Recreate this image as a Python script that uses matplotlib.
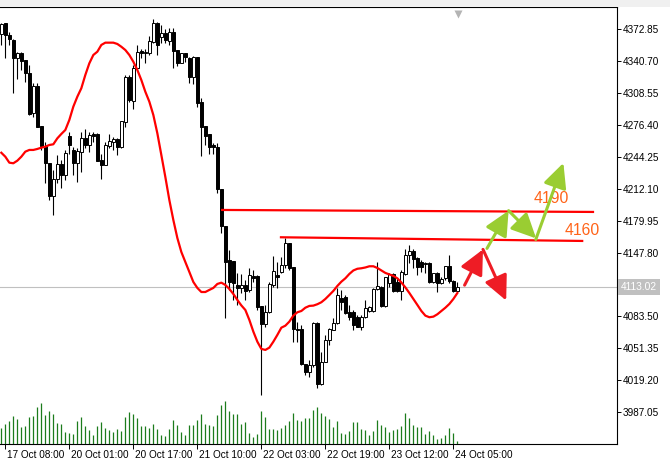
import matplotlib
matplotlib.use('Agg')
import matplotlib.pyplot as plt
from matplotlib.patches import Rectangle, FancyArrowPatch
from matplotlib.transforms import blended_transform_factory, offset_copy

# H1 bars, first bar = 17 Oct 07:00
opens = [4367.8, 4378.5, 4366.8, 4361.7, 4343.3, 4349.0, 4341.6, 4328.2, 4288.0, 4315.4,
         4275.2, 4255.1, 4237.6, 4204.7, 4221.5, 4236.9, 4225.9, 4265.1, 4251.0, 4238.2,
         4249.3, 4262.8, 4256.1, 4267.1, 4267.1, 4241.0, 4235.9, 4255.1, 4259.4, 4261.8,
         4254.4, 4279.5, 4324.2, 4300.6, 4333.3, 4351.0, 4348.4, 4348.4, 4360.0, 4378.5,
         4365.1, 4369.1, 4361.0, 4370.1, 4351.7, 4338.9, 4348.4, 4343.3, 4324.8, 4345.0,
         4299.6, 4275.2, 4267.1, 4256.1, 4254.4, 4211.5, 4174.5, 4140.3, 4139.6, 4115.2,
         4111.8, 4115.2, 4110.1, 4124.2, 4124.2, 4094.0, 4075.6, 4087.7, 4115.2, 4125.2,
         4128.5, 4135.3, 4157.1, 4133.6, 4070.9, 4070.9, 4035.3, 4027.9, 4034.6, 4076.6,
         4015.2, 4037.9, 4059.8, 4069.9, 4077.2, 4102.4, 4103.4, 4088.3, 4088.3, 4082.6,
         4073.2, 4082.6, 4089.3, 4089.3, 4110.8, 4113.5, 4094.0, 4116.8, 4126.2, 4118.5,
         4109.4, 4126.2, 4145.3, 4149.7, 4142.0, 4138.6, 4136.3, 4137.6, 4118.5, 4127.5,
         4117.5, 4121.9, 4134.3, 4119.5, 4109.4]
highs = [4379.2, 4379.2, 4370.1, 4362.4, 4350.0, 4350.0, 4341.6, 4336.6, 4318.2, 4318.2,
         4275.2, 4259.4, 4237.6, 4230.9, 4246.0, 4241.0, 4251.0, 4269.4, 4254.4, 4252.7,
         4269.4, 4271.9, 4269.4, 4269.4, 4267.8, 4247.0, 4259.4, 4267.1, 4264.4, 4262.8,
         4280.5, 4326.5, 4326.5, 4336.6, 4356.7, 4352.4, 4352.4, 4365.8, 4382.6, 4380.2,
         4376.8, 4372.5, 4373.5, 4373.5, 4351.7, 4349.0, 4349.0, 4345.0, 4345.6, 4345.0,
         4303.1, 4275.2, 4267.1, 4257.8, 4257.8, 4211.5, 4174.5, 4150.4, 4139.6, 4126.9,
         4125.9, 4120.2, 4131.9, 4130.2, 4125.2, 4094.0, 4095.0, 4118.5, 4144.6, 4138.6,
         4143.6, 4162.2, 4157.1, 4133.6, 4078.2, 4074.9, 4035.3, 4039.6, 4078.2, 4078.2,
         4048.0, 4064.8, 4071.6, 4081.6, 4111.8, 4110.1, 4105.1, 4095.0, 4090.0, 4084.9,
         4084.9, 4100.0, 4094.0, 4111.8, 4138.6, 4114.2, 4123.5, 4127.5, 4127.5, 4121.9,
         4130.2, 4151.1, 4155.4, 4151.1, 4143.6, 4140.3, 4138.6, 4138.6, 4127.5, 4128.5,
         4123.5, 4134.3, 4145.3, 4120.2, 4118.5]
lows = [4356.7, 4343.3, 4356.7, 4308.7, 4322.2, 4331.5, 4319.8, 4286.3, 4284.5, 4273.9,
        4251.0, 4217.5, 4200.7, 4185.6, 4217.5, 4212.5, 4220.8, 4247.0, 4225.9, 4219.1,
        4229.2, 4252.7, 4249.3, 4259.4, 4240.3, 4221.5, 4235.9, 4252.7, 4251.0, 4246.0,
        4252.7, 4273.9, 4299.6, 4292.6, 4332.2, 4343.3, 4338.3, 4346.6, 4359.0, 4346.6,
        4358.4, 4358.4, 4356.7, 4333.3, 4335.6, 4338.3, 4339.9, 4318.2, 4317.5, 4294.0,
        4245.0, 4256.1, 4247.0, 4247.0, 4207.4, 4167.8, 4081.6, 4110.1, 4100.0, 4095.0,
        4106.8, 4100.0, 4108.4, 4118.5, 4090.0, 4004.4, 4073.2, 4086.7, 4113.5, 4111.8,
        4126.9, 4132.6, 4130.2, 4058.1, 4057.5, 4034.6, 4024.6, 4022.9, 4032.9, 4011.2,
        4014.5, 4037.3, 4054.8, 4069.9, 4075.9, 4090.0, 4086.0, 4080.0, 4069.9, 4073.2,
        4069.9, 4081.6, 4088.3, 4088.3, 4110.1, 4092.7, 4093.3, 4113.5, 4108.4, 4108.4,
        4100.0, 4125.2, 4137.0, 4131.9, 4125.2, 4128.5, 4126.9, 4116.8, 4116.8, 4108.4,
        4116.2, 4120.2, 4117.5, 4108.4, 4108.4]
closes = [4377.8, 4366.8, 4362.4, 4343.3, 4349.0, 4340.9, 4328.2, 4287.3, 4315.4, 4274.5,
          4255.1, 4237.6, 4204.7, 4221.5, 4236.9, 4225.9, 4247.7, 4256.1, 4237.6, 4250.3,
          4262.8, 4256.1, 4266.1, 4265.1, 4240.3, 4235.9, 4256.1, 4260.4, 4261.8, 4254.4,
          4280.5, 4324.2, 4301.4, 4333.3, 4350.0, 4348.4, 4350.0, 4361.0, 4378.5, 4356.7,
          4369.1, 4361.7, 4370.1, 4351.0, 4338.9, 4348.4, 4345.0, 4324.8, 4345.0, 4298.6,
          4274.5, 4265.1, 4254.4, 4254.4, 4211.5, 4174.5, 4138.6, 4118.5, 4117.5, 4111.8,
          4115.2, 4109.1, 4125.2, 4122.5, 4093.3, 4075.6, 4087.7, 4115.8, 4129.2, 4123.5,
          4135.3, 4157.1, 4132.6, 4070.9, 4069.6, 4035.3, 4027.9, 4034.6, 4076.6, 4015.2,
          4037.9, 4059.8, 4070.9, 4077.2, 4105.1, 4098.3, 4086.7, 4082.6, 4074.9, 4073.2,
          4082.6, 4091.7, 4092.7, 4110.8, 4114.2, 4094.0, 4122.9, 4126.2, 4109.4, 4109.4,
          4128.5, 4145.3, 4149.7, 4141.0, 4133.6, 4133.0, 4137.6, 4118.5, 4126.9, 4117.5,
          4120.9, 4134.3, 4119.5, 4109.4, 4113.02]
volumes = [48, 60, 69, 84, 75, 51, 54, 81, 84, 111, 123, 87, 99, 90, 63, 60, 36, 33, 30, 69,
           81, 54, 42, 27, 54, 66, 48, 42, 36, 45, 39, 81, 96, 90, 78, 54, 54, 48, 60, 45,
           27, 24, 45, 72, 57, 36, 27, 57, 57, 72, 90, 60, 57, 54, 87, 117, 129, 99, 90, 90,
           60, 66, 33, 21, 30, 99, 81, 45, 45, 42, 48, 57, 69, 93, 72, 69, 78, 78, 102, 111,
           93, 84, 75, 51, 69, 33, 30, 39, 66, 66, 45, 42, 27, 39, 72, 57, 51, 36, 42, 45,
           54, 93, 78, 57, 51, 51, 30, 39, 27, 15, 18, 27, 48, 33, 9]
ma_values = [4248.3, 4244.3, 4238.3, 4237.7, 4240.3, 4244.3, 4249.4, 4251.1, 4251.1, 4252.1,
             4253.4, 4254.4, 4256.1, 4256.8, 4262.8, 4267.2, 4271.2, 4281.3, 4294.7, 4304.7,
             4313.2, 4326.6, 4338.3, 4346.7, 4350.0, 4356.8, 4359.1, 4359.1, 4359.1, 4357.8,
             4355.0, 4351.7, 4346.7, 4339.9, 4331.6, 4321.5, 4309.7, 4299.7, 4286.3, 4267.9,
             4246.0, 4223.9, 4200.7, 4180.6, 4162.5, 4148.4, 4138.3, 4128.3, 4118.2, 4112.2,
             4108.1, 4108.1, 4110.2, 4112.2, 4116.2, 4117.5, 4115.2, 4111.2, 4106.1, 4100.1,
             4094.6, 4090.0, 4080.0, 4068.2, 4058.1, 4050.8, 4049.8, 4052.1, 4058.1, 4064.9,
             4072.2, 4074.2, 4078.3, 4084.3, 4087.7, 4089.0, 4092.3, 4094.1, 4094.4, 4095.8,
             4097.8, 4101.1, 4105.1, 4109.2, 4114.2, 4118.5, 4121.9, 4126.3, 4129.8, 4131.5,
             4132.0, 4132.8, 4134.0, 4134.0, 4132.3, 4129.8, 4127.3, 4125.8, 4124.3, 4121.9,
             4117.7, 4112.7, 4107.1, 4101.1, 4095.1, 4089.0, 4084.3, 4082.7, 4083.3, 4085.7,
             4089.0, 4092.3, 4096.1, 4101.1, 4107.1]

last_price = 4113.02
price_ticks = [3987.05, 4019.20, 4051.35, 4083.50, 4147.80, 4179.95, 4212.10,
               4244.25, 4276.40, 4308.55, 4340.70, 4372.85]
time_tick_bars = [1, 17, 33, 49, 65, 81, 97, 113]
time_tick_labels = ['17 Oct 08:00', '20 Oct 01:00', '20 Oct 17:00', '21 Oct 10:00',
                    '22 Oct 03:00', '22 Oct 19:00', '23 Oct 12:00', '24 Oct 05:00']

# trend lines drawn on the chart (bar index, price)
res_upper = [(55.2, 4190.7), (147.9, 4188.7)]
res_lower = [(69.9, 4163.2), (145.2, 4159.5)]
level_labels = [('4190', 133.0, 4202.7), ('4160', 140.9, 4170.5)]

# scenario arrows (start, end) in (bar index, price)
red_arrows = [((115.8, 4115.0), (120.4, 4151.0)),
              ((120.4, 4151.0), (126.2, 4099.5))]
green_arrows = [((121.4, 4152.0), (126.8, 4190.0)),
                ((126.8, 4190.0), (133.7, 4162.0)),
                ((133.6, 4161.0), (140.5, 4238.0))]

W, H = 670, 462
fig = plt.figure(figsize=(W / 100, H / 100), dpi=100)
fig.patches.append(Rectangle((0, 1 - 7 / H), 1, 7 / H, transform=fig.transFigure,
                             facecolor='#F0F0F0', edgecolor='none'))
ax = fig.add_axes([0, 18 / H, 617 / W, 437 / H])

idx = list(range(len(opens)))

# volumes in the bottom of the window
ax2 = ax.twinx()
ax2.vlines(idx, 0, volumes, color='#1C7C1C', lw=0.9)
ax2.set_ylim(0, 1311)
ax2.set_yticks([])
for s in ax2.spines.values():
    s.set_visible(False)

# candles
ax.vlines(idx, lows, highs, color='black', lw=0.8, zorder=2)
for i in idx:
    o, c = opens[i], closes[i]
    bottom = min(o, c)
    height = max(abs(c - o), 0.7)
    face = 'white' if c >= o else 'black'
    ax.bar(i, height, bottom=bottom, width=0.6, facecolor=face,
           edgecolor='black', lw=0.7, zorder=3)

ax.plot(idx, ma_values, color='#FF0000', lw=1.6, zorder=4)
ax.axhline(last_price, color='#C0C0C0', lw=0.8, zorder=1)

for line in (res_upper, res_lower):
    ax.plot([p[0] for p in line], [p[1] for p in line], color='#FF0000', lw=1.6, zorder=4)

for txt, xb, yp in level_labels:
    ax.text(xb, yp, txt, color='#FF6318', fontsize=11.3, family='Liberation Sans',
            va='center', ha='left', zorder=5)

def draw_arrow(start, end, color):
    arr = FancyArrowPatch(start, end, arrowstyle='-|>,head_length=0.75,head_width=0.36',
                          mutation_scale=20, color=color, lw=2.2,
                          shrinkA=0, shrinkB=0, zorder=6)
    ax.add_patch(arr)

for s, e in red_arrows:
    draw_arrow(s, e, '#EE1C25')
for s, e in green_arrows:
    draw_arrow(s, e, '#9ACD32')

ax.set_xlim(-0.33, 153.9)
ax.set_ylim(3955.1, 4395.0)

# axes, ticks
ax.yaxis.tick_right()
ax.set_yticks(price_ticks)
ax.set_yticklabels(['%.2f' % v for v in price_ticks])
ax.tick_params(axis='y', direction='out', length=3, width=0.7, pad=1.2,
               labelsize=7.2, colors='black')
ax.set_xticks(time_tick_bars)
ax.set_xticklabels(time_tick_labels)
ax.tick_params(axis='x', direction='out', length=3.5, width=0.7, pad=0.5, labelsize=7.2)
for lab in ax.get_xticklabels() + ax.get_yticklabels():
    lab.set_family('Liberation Sans')
for lab in ax.get_xticklabels():
    lab.set_ha('left')
    lab.set_transform(offset_copy(lab.get_transform(), fig=fig, x=1.5, units='dots'))

for side in ('top', 'right', 'bottom'):
    ax.spines[side].set_linewidth(0.8)
ax.spines['left'].set_visible(False)

# current price label
tr = blended_transform_factory(ax.transAxes, ax.transData)
ax.text(1.0 + 4 / 617, last_price, '%.2f' % last_price, transform=tr, color='white',
        fontsize=7.4, family='Liberation Sans', va='center', ha='left',
        bbox=dict(facecolor='#C0C0C0', edgecolor='none', pad=2.2), clip_on=False)

# chart shift marker
ax.plot([114.05], [0.985], marker='v', ms=6, color='#B4B4B4', mec='none',
        transform=blended_transform_factory(ax.transData, ax.transAxes), clip_on=False)

fig.savefig('out.png', dpi=100)
